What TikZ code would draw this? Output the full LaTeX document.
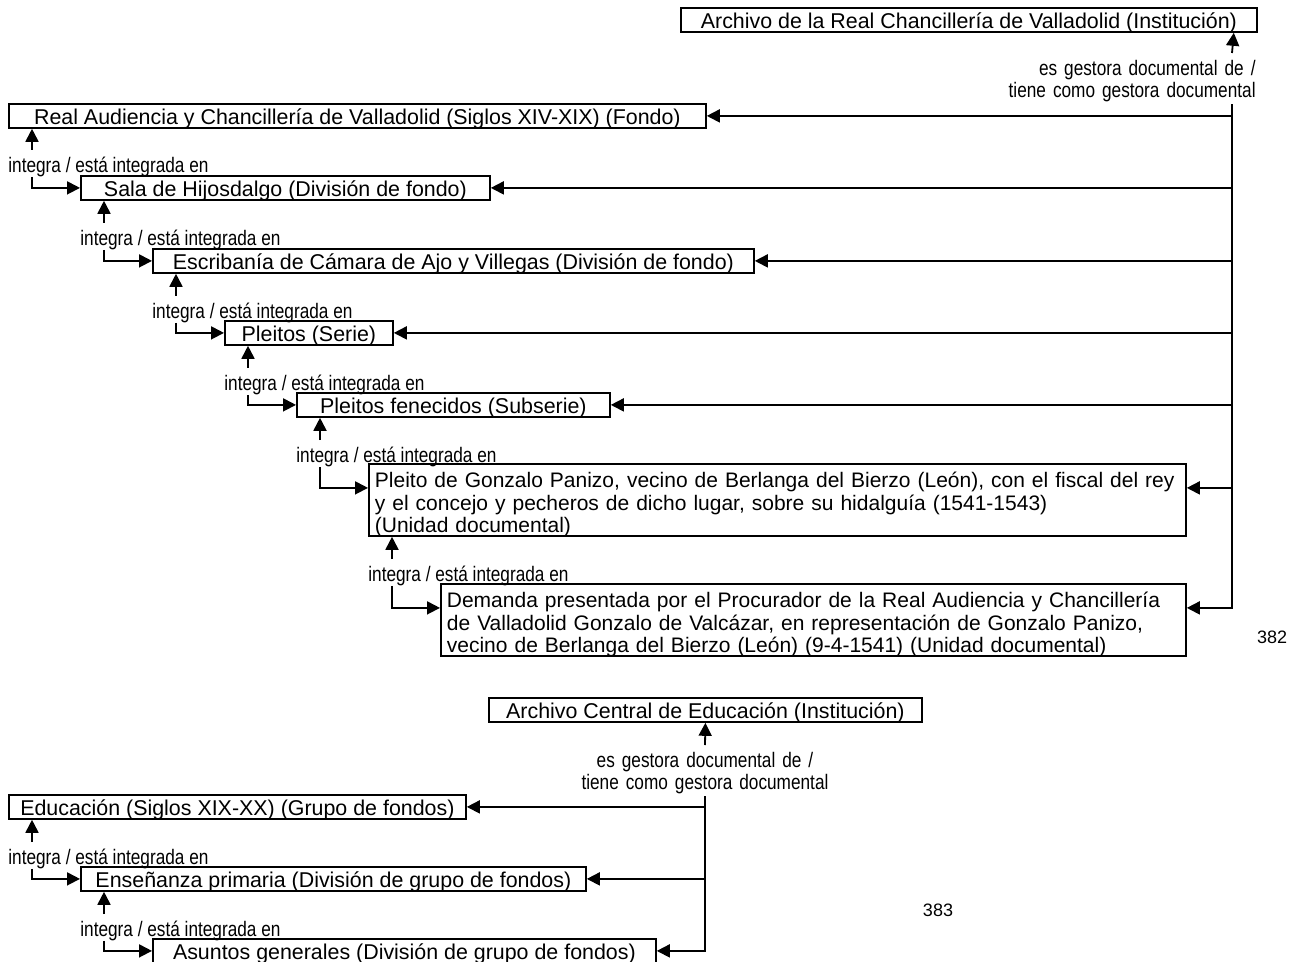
\documentclass[tikz,border=0pt]{standalone}
\usepackage{fontspec}
\setmainfont{Liberation Sans}
\newfontfamily\narrowfont[FakeStretch=0.82]{Liberation Sans}
\usetikzlibrary{positioning, calc, arrows.meta}

\begin{document}
\begin{tikzpicture}[x=0.5pt, y=-0.5pt,
  box/.style={draw, line width=0.9pt, anchor=north west, minimum height=12pt, inner xsep=3pt, inner ysep=1.5pt, text height=9pt, text depth=0pt, font=\fontsize{10.7}{11.25}\selectfont},
  bigbox/.style={box, align=left, text height=10.5pt, text depth=22.5pt, font=\fontsize{10.5}{11.25}\selectfont},
  rel/.style={anchor=north west, inner sep=0pt, text height=11pt, text depth=2pt, font=\narrowfont\fontsize{10.5}{11.25}\selectfont},
  gest/.style={inner sep=0pt, text width=130pt, text height=11pt, text depth=14.25pt, font=\narrowfont\fontsize{10.5}{11.25}\selectfont},
  arr/.style={-{Triangle[length=6.5pt, width=6.5pt]}, line width=0.9pt},
  pnum/.style={font=\fontsize{9}{10}\selectfont}
]
\useasboundingbox (0,0) rectangle (1300,962);

% Real Chancilleria
\node[box, minimum width=288pt] (arch1) at (680,7) {Archivo de la Real Chancillería de Valladolid (Institución)};
\node[gest, align=right, anchor=north east] (gl1) at (1256,53) {es gestora documental de /\\tiene como gestora documental};
\node[box, minimum width=348.5pt] (ra) at (8,103) {Real Audiencia y Chancillería de Valladolid (Siglos XIV-XIX) (Fondo)};
\node[rel] (l1) at (8,150) {integra / está integrada en};
\node[box, minimum width=204.5pt] (sala) at (80,175) {Sala de Hijosdalgo (División de fondo)};
\node[rel] (l2) at (80,223) {integra / está integrada en};
\node[box, minimum width=300.5pt] (escr) at (152,248) {Escribanía de Cámara de Ajo y Villegas (División de fondo)};
\node[rel] (l3) at (152,296) {integra / está integrada en};
\node[box, minimum width=84pt] (pl) at (224,320) {Pleitos (Serie)};
\node[rel] (l4) at (224,368) {integra / está integrada en};
\node[box, minimum width=156.5pt] (plf) at (296,392) {Pleitos fenecidos (Subserie)};
\node[rel] (l5) at (296,440) {integra / está integrada en};
\node[bigbox, text width=402.5pt] (pg) at (368,463) {Pleito de Gonzalo Panizo, vecino de Berlanga del Bierzo (León), con el fiscal del rey\\y el concejo y pecheros de dicho lugar, sobre su hidalguía (1541-1543)\\(Unidad documental)};
\node[rel] (l6) at (368,559) {integra / está integrada en};
\node[bigbox, text width=366.5pt] (dem) at (440,583) {Demanda presentada por el Procurador de la Real Audiencia y Chancillería\\de Valladolid Gonzalo de Valcázar, en representación de Gonzalo Panizo,\\vecino de Berlanga del Bierzo (León) (9-4-1541) (Unidad documental)};
\node[pnum] (n382) at (1272,637) {382};

\draw[arr] ($(gl1.north east)+(-24,0)$) -- ($(arch1.south east)+(-24,0)$);
\coordinate (t1) at ($(gl1.south east)+(-24,0)$);
\draw[arr] (t1) |- (dem.base east);
\draw[arr] (t1 |- ra.east) -- (ra.east);
\draw[arr] (t1 |- sala.east) -- (sala.east);
\draw[arr] (t1 |- escr.east) -- (escr.east);
\draw[arr] (t1 |- pl.east) -- (pl.east);
\draw[arr] (t1 |- plf.east) -- (plf.east);
\draw[arr] (t1 |- pg.base east) -- (pg.base east);

\foreach \up/\lab/\down in {ra/l1/sala, sala/l2/escr, escr/l3/pl, pl/l4/plf, plf/l5/pg}
  \draw[arr] ($(\lab.north west)+(24,0)$) -- ($(\up.south west)+(24,0)$);
\foreach \lab/\down in {l1/sala, l2/escr, l3/pl, l4/plf}
  \draw[arr] ($(\lab.south west)+(24,0)$) |- (\down.west);
\draw[arr] ($(l5.south west)+(24,0)$) |- (pg.base west);
\draw[arr] ($(l6.north west)+(24,0)$) -- ($(pg.south west)+(24,0)$);
\draw[arr] ($(l6.south west)+(24,0)$) |- (dem.base west);

% Educacion
\node[box, minimum width=216.5pt] (arch2) at (488,697) {Archivo Central de Educación (Institución)};
\node[gest, align=center, anchor=north] (gl2) at (705,745) {es gestora documental de /\\tiene como gestora documental};
\node[box, minimum width=228.5pt] (edu) at (8,794) {Educación (Siglos XIX-XX) (Grupo de fondos)};
\node[rel] (l7) at (8,842) {integra / está integrada en};
\node[box, minimum width=252.5pt] (ens) at (80,866) {Enseñanza primaria (División de grupo de fondos)};
\node[rel] (l8) at (80,914) {integra / está integrada en};
\node[box, minimum width=251.5pt] (asu) at (152,938) {Asuntos generales (División de grupo de fondos)};
\node[pnum] (n383) at (938,910) {383};

\draw[arr] (gl2.north) -- (arch2.south);
\coordinate (t2) at (gl2.south);
\draw[arr] (t2) |- (asu.east);
\draw[arr] (t2 |- edu.east) -- (edu.east);
\draw[arr] (t2 |- ens.east) -- (ens.east);

\foreach \up/\lab/\down in {edu/l7/ens, ens/l8/asu} {
  \draw[arr] ($(\lab.north west)+(24,0)$) -- ($(\up.south west)+(24,0)$);
  \draw[arr] ($(\lab.south west)+(24,0)$) |- (\down.west);
}
\end{tikzpicture}
\end{document}
